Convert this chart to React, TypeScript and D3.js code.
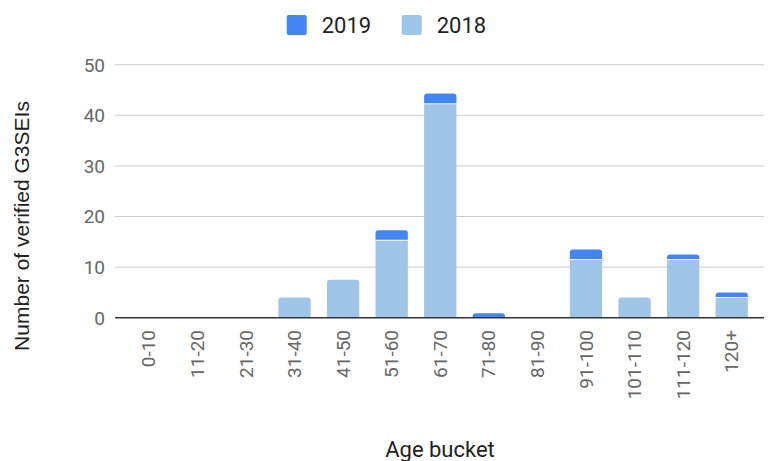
import React from "react";
import * as d3 from "d3";

const categories = ["0-10","11-20","21-30","31-40","41-50","51-60","61-70","71-80","81-90","91-100","101-110","111-120","120+"];
const values2018 = [0,0,0,4,7.5,15.3,42.3,0,0,11.5,4,11.5,4];
const values2019 = [0,0,0,0,0,2,2,0.9,0,2,0,1,1];
const yTicks = [0,10,20,30,40,50];
const seriesNames = ["2019","2018"];
const colors: Record<string,string> = { "2019": "#4285F4", "2018": "#9FC5E8" };

const W = 769, H = 461;
const FONT = "Roboto, 'Noto Sans', sans-serif";

function topRoundedRect(x: number, y0: number, y1: number, w: number, r: number) {
  const h = y1 - y0;
  const rr = Math.max(0, Math.min(r, h, w / 2));
  return `M${x},${y1}V${y0 + rr}Q${x},${y0} ${x + rr},${y0}H${x + w - rr}Q${x + w},${y0} ${x + w},${y0 + rr}V${y1}Z`;
}

export default function App() {
  const x = d3.scaleBand<string>().domain(categories).range([124.5, 756]).paddingInner(0.335).paddingOuter(0.1675);
  const y = d3.scaleLinear().domain([0, 50]).range([317.7, 64.7]);
  const bw = x.bandwidth();

  return (
    <svg width={W} height={H} style={{ position: "absolute", left: 0, top: 0, fontFamily: FONT, background: "#fff" }}>
      {seriesNames.map((s, i) => {
        const lx = [286.7, 401.7][i];
        return (
          <g key={s}>
            <rect x={lx} y={15} width={20} height={20} rx={2} fill={colors[s]} />
            <text x={lx + 35} y={33.3} fontSize={22} fill="#222">{s}</text>
          </g>
        );
      })}
      {yTicks.map(t => (
        <g key={t}>
          {t !== 0 && <line x1={115} x2={764} y1={y(t)} y2={y(t)} stroke="#cccccc" strokeWidth={1} />}
          <text x={105} y={y(t)} dy="0.36em" textAnchor="end" fontSize={19} fill="#666">{t}</text>
        </g>
      ))}
      {categories.map((c, i) => {
        const bx = x(c)!;
        const v18 = values2018[i];
        const v19 = values2019[i];
        const parts: JSX.Element[] = [];
        if (v18 > 0) {
          const top = y(v18);
          const isTop = v19 === 0;
          parts.push(
            <path key="a" d={isTop ? topRoundedRect(bx, top, y(0), bw, 3) : `M${bx},${y(0)}V${top + 0.5}H${bx + bw}V${y(0)}Z`} fill={colors["2018"]} />
          );
        }
        if (v19 > 0) {
          const top = y(v18 + v19);
          const bottom = v18 > 0 ? y(v18) - 0.5 : y(0);
          parts.push(<path key="b" d={topRoundedRect(bx, top, bottom, bw, 3)} fill={colors["2019"]} />);
        }
        return <g key={c}>{parts}</g>;
      })}
      <line x1={115} x2={764} y1={y(0)} y2={y(0)} stroke="#333" strokeWidth={1.6} />
      {categories.map(c => {
        const cx = x(c)! + bw / 2;
        return (
          <text key={c} transform={`translate(${cx},330) rotate(-90)`} textAnchor="end" dy="0.35em" fontSize={19} fill="#666">{c}</text>
        );
      })}
      <text x={440} y={457} textAnchor="middle" fontSize={22} fill="#222">Age bucket</text>
      <text transform={`translate(29,226) rotate(-90)`} textAnchor="middle" fontSize={21} fontFamily="'Liberation Sans', Arial, sans-serif" fill="#222">Number of verified G3SEIs</text>
    </svg>
  );
}
